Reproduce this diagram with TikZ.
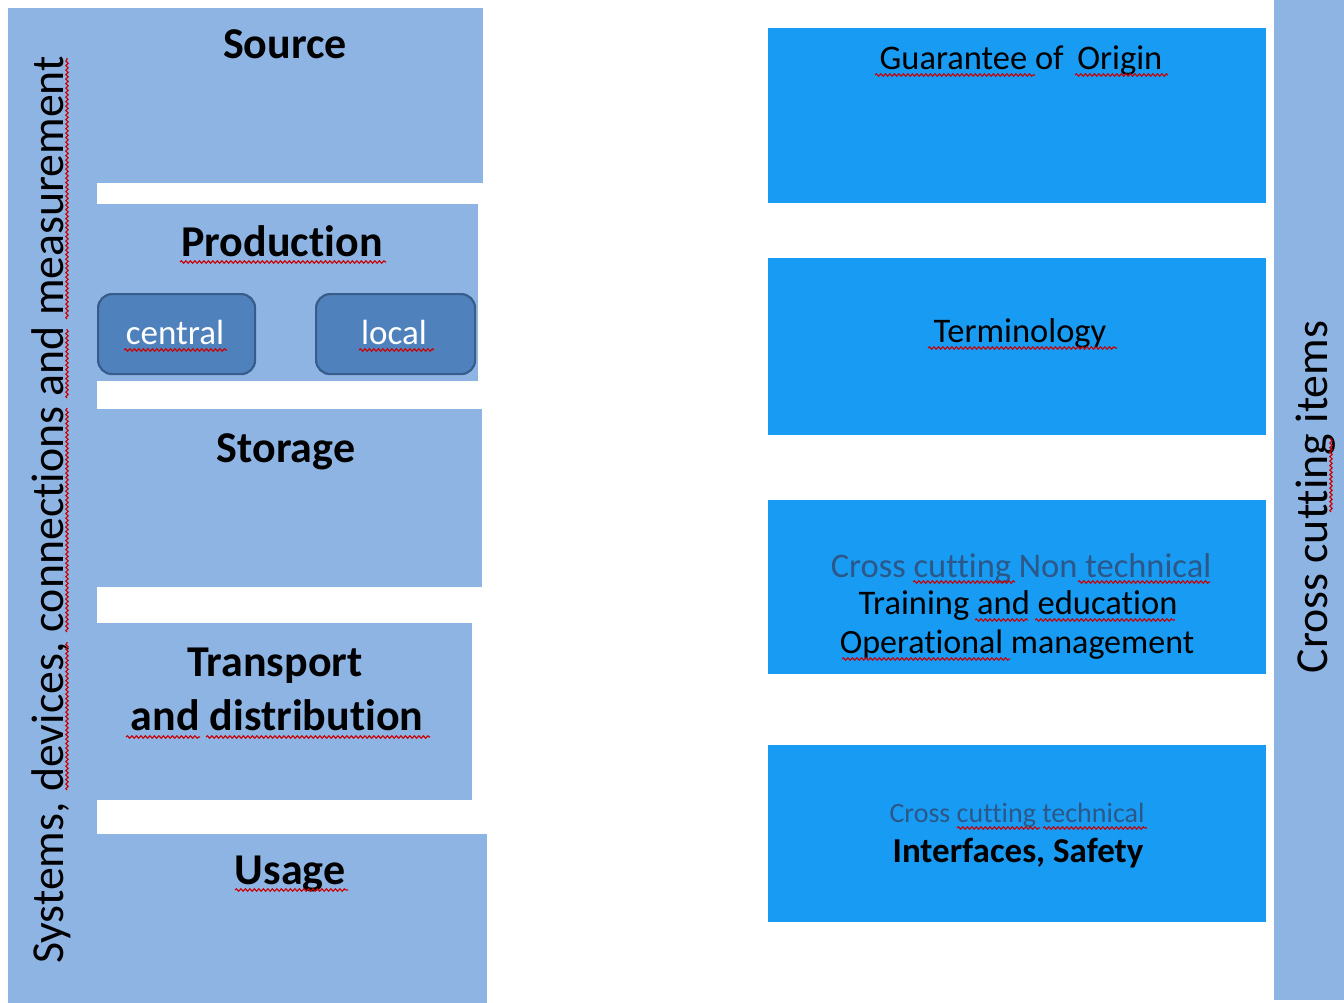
\documentclass[tikz,border=0pt]{standalone}
\usepackage{fontspec}
\setmainfont{Carlito}[Ligatures=NoCommon]
\usetikzlibrary{decorations.pathmorphing}
\definecolor{lightbar}{HTML}{8EB4E3}
\definecolor{brightblue}{HTML}{189BF3}
\definecolor{subbox}{HTML}{4F81BD}
\definecolor{subedge}{HTML}{385D8A}
\definecolor{greytext}{HTML}{2B5888}
\begin{document}
\begin{tikzpicture}[x=1pt,y=-1pt,
  lfill/.style={fill=lightbar, draw=none, inner sep=0pt, outer sep=0pt, anchor=north west},
  rbox/.style={fill=brightblue, draw=none, inner sep=0pt, outer sep=0pt, minimum width=498pt, anchor=north west},
  subnode/.style={fill=subbox, draw=subedge, line width=2.2pt, rounded corners=14pt, inner sep=0pt, minimum width=157pt, minimum height=80pt, anchor=north west},
  big/.style={font=\fontsize{44}{53}\selectfont\bfseries, anchor=base, inner sep=0pt},
  vert/.style={font=\fontsize{45.8}{54}\selectfont, anchor=base, inner sep=0pt, rotate=90},
  sub/.style={font=\fontsize{35}{42}\selectfont, text=white, anchor=base, inner sep=0pt},
  mid/.style={font=\fontsize{34.5}{42}\selectfont, anchor=base, inner sep=0pt},
  midb/.style={font=\fontsize{35}{42}\selectfont\bfseries, anchor=base, inner sep=0pt},
  small/.style={font=\fontsize{28}{34}\selectfont, text=greytext, anchor=base, inner sep=0pt},
  spell/.style={draw=red!80!black, line width=1.1pt, decorate, decoration={snake, amplitude=1.2pt, segment length=4.5pt}},
]
\fill[white] (0,0) rectangle (1344,1003);
\useasboundingbox (0,0) rectangle (1344,1003);

% left group
\node[lfill, minimum width=89pt, minimum height=995pt] (sysbar) at (8,8) {};
\node[lfill, minimum width=475pt, minimum height=175pt] (source) at (8,8) {};
\node[lfill, minimum width=381pt, minimum height=177pt] (production) at (97,204) {};
\node[lfill, minimum width=385pt, minimum height=178pt] (storage) at (97,409) {};
\node[lfill, minimum width=375pt, minimum height=177pt] (transport) at (97,623) {};
\node[lfill, minimum width=390pt, minimum height=169pt] (usage) at (97,834) {};
\node[subnode] (central) at (97,293) {};
\node[subnode, minimum width=159pt] (local) at (315,293) {};

\node[big] (sourcelbl) at (285,59) {Source};
\node[big] (prodlbl) at (282,257) {Production};
\node[sub] (centrallbl) at (175,344) {central};
\node[sub] (locallbl) at (394,344) {local};
\node[big] (storagelbl) at (286,462) {Storage};
\node[big] (translbl) at (275,676) {Transport};
\node[big] (distlbl) at (277,730) {and distribution};
\node[big] (usagelbl) at (290,884) {Usage};
\node[vert] (syslbl) at (63,510) {Systems, devices, connections and measurement};

% right group
\node[fill=lightbar, inner sep=0pt, outer sep=0pt, minimum width=70pt, minimum height=1000pt, anchor=north west] (crossbar) at (1274,0) {};
\node[rbox, minimum height=175pt] (goo) at (768,28) {};
\node[rbox, minimum height=177pt] (term) at (768,258) {};
\node[rbox, minimum height=174pt] (nontech) at (768,500) {};
\node[rbox, minimum height=177pt] (tech) at (768,745) {};

\node[mid] (goolbl) at (1021,70) {Guarantee of\, Origin};
\node[mid] (termlbl) at (1020,342) {Terminology};
\node[mid, text=greytext] (ntlbl) at (1021,577) {Cross cutting Non technical};
\node[mid] (trainlbl) at (1018,614) {Training and education};
\node[mid, font=\fontsize{34}{42}\selectfont] (oplbl) at (1017,653) {Operational management};
\node[small] (techlbl) at (1017,822) {Cross cutting technical};
\node[midb] (intlbl) at (1018,862) {Interfaces, Safety};
\node[vert] (crosslbl) at (1327,497) {Cross cutting items};

% spell-check underlines
\draw[spell] (180,262) -- (386,262);
\draw[spell] (124,350) -- (227,350);
\draw[spell] (359,350) -- (434,350);
\draw[spell] (126,737) -- (200,737);
\draw[spell] (206,737) -- (430,737);
\draw[spell] (235,890) -- (348,890);
\draw[spell] (67,790) -- (67,642);
\draw[spell] (67,632) -- (67,408);
\draw[spell] (67,398) -- (67,329);
\draw[spell] (67,319) -- (67,58);
\draw[spell] (875,75) -- (1035,75);
\draw[spell] (1075,75) -- (1168,75);
\draw[spell] (928,348) -- (1117,348);
\draw[spell] (913,582) -- (1015,582);
\draw[spell] (1078,582) -- (1210,582);
\draw[spell] (975,620) -- (1028,620);
\draw[spell] (1035,620) -- (1175,620);
\draw[spell] (842,659) -- (1010,659);
\draw[spell] (957,828) -- (1040,828);
\draw[spell] (1043,828) -- (1147,828);
\draw[spell] (1331,512) -- (1331,438);
\end{tikzpicture}
\end{document}
